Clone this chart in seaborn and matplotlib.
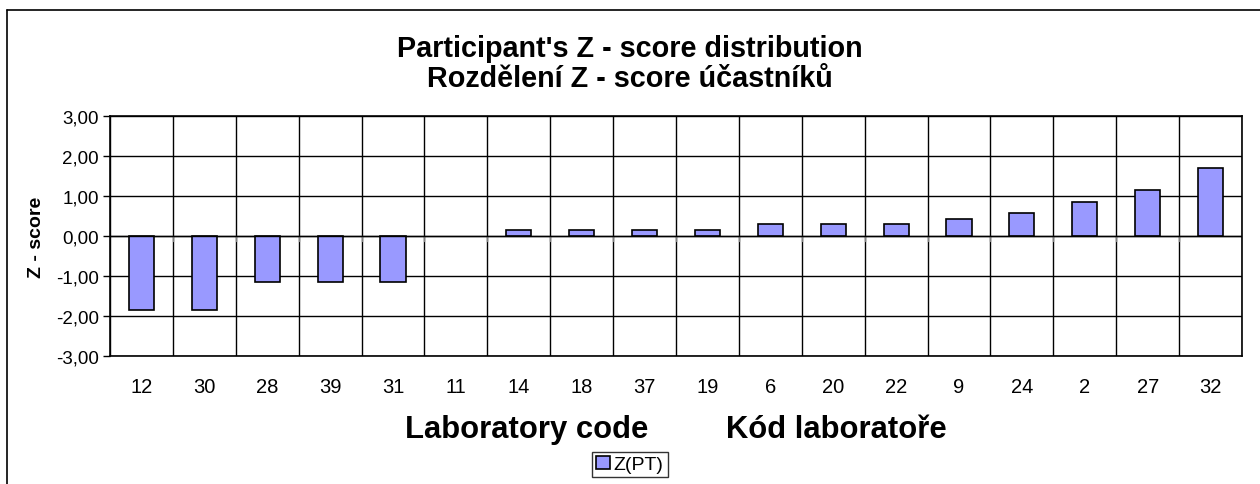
import matplotlib
matplotlib.use("Agg")
import matplotlib.pyplot as plt
import seaborn as sns
import pandas as pd
from matplotlib.lines import Line2D

codes = ["12", "30", "28", "39", "31", "11", "14", "18", "37", "19", "6", "20", "22", "9", "24", "2", "27", "32"]
zscores = [-1.86, -1.86, -1.14, -1.14, -1.14, 0.0, 0.14, 0.14, 0.14, 0.14, 0.29, 0.29, 0.29, 0.43, 0.57, 0.86, 1.14, 1.71]
yticks = [-3, -2, -1, 0, 1, 2, 3]
ytick_labels = ["-3,00", "-2,00", "-1,00", "0,00", "1,00", "2,00", "3,00"]

sns.set_theme(style="white")
plt.rcParams['font.family'] = ['Liberation Sans', 'DejaVu Sans']
plt.rcParams['text.color'] = 'black'
plt.rcParams['axes.labelcolor'] = 'black'
plt.rcParams['xtick.color'] = 'black'
plt.rcParams['ytick.color'] = 'black'

df = pd.DataFrame({"code": codes, "z": zscores})

fig = plt.figure(figsize=(12.6, 4.85), dpi=100)
ax = fig.add_axes([0.0873, 0.2639, 0.8984, 0.4949])

sns.barplot(data=df, x="code", y="z", order=codes, color="#9999FF",
            edgecolor="black", linewidth=1.2, width=0.4, saturation=1,
            label="Z(PT)", ax=ax, zorder=3)
for p in ax.patches:
    if abs(p.get_height()) < 1e-9:
        p.set_linewidth(0)

n = len(codes)
ax.set_xlim(-0.5, n - 0.5)
ax.set_ylim(-3, 3)
ax.set_yticks(yticks)
ax.set_yticklabels(ytick_labels, fontsize=13.5)
ax.yaxis.grid(True, color="black", linewidth=1)
for i in range(n + 1):
    ax.axvline(i - 0.5, color="black", linewidth=1, zorder=1)
ax.axhline(0, color="black", linewidth=1, zorder=4)
for i in range(1, n):
    ax.plot([i - 0.5, i - 0.5], [0, -0.12], color="gray", linewidth=1, zorder=2)
ax.tick_params(axis="y", which="both", left=True, length=5, width=1, color="black", pad=3)
ax.tick_params(axis="x", length=0, pad=15, labelsize=14.5)
for s in ax.spines.values():
    s.set_color("black")
    s.set_linewidth(1.2)

ax.set_xlabel("Laboratory code         Kód laboratoře", fontsize=22.3, fontweight="bold", labelpad=13)
ax.set_ylabel("Z - score", fontsize=14, fontweight="bold", labelpad=8)

fig.text(0.5, 0.899, "Participant's Z - score distribution", ha="center", va="center",
         fontsize=20.7, fontweight="bold")
fig.text(0.5, 0.837, "Rozdělení Z - score účastníků", ha="center", va="center",
         fontsize=20.7, fontweight="bold")

leg = ax.legend(loc="center", bbox_to_anchor=(0.5, 0.040), bbox_transform=fig.transFigure,
                frameon=True, fancybox=False, fontsize=14, handlelength=0.7, handleheight=0.7,
                handletextpad=0.2, borderpad=0.2, borderaxespad=0)
leg.get_frame().set_edgecolor("black")
leg.get_frame().set_linewidth(1)

x0 = 6.5 / 1260
y0 = 1 - 11 / 485
fig.lines.append(Line2D([x0, 1.0], [y0, y0], transform=fig.transFigure, color="black", linewidth=1.2))
fig.lines.append(Line2D([x0, x0], [0.0, y0], transform=fig.transFigure, color="black", linewidth=1.2))

fig.savefig("out.png", dpi=100)
